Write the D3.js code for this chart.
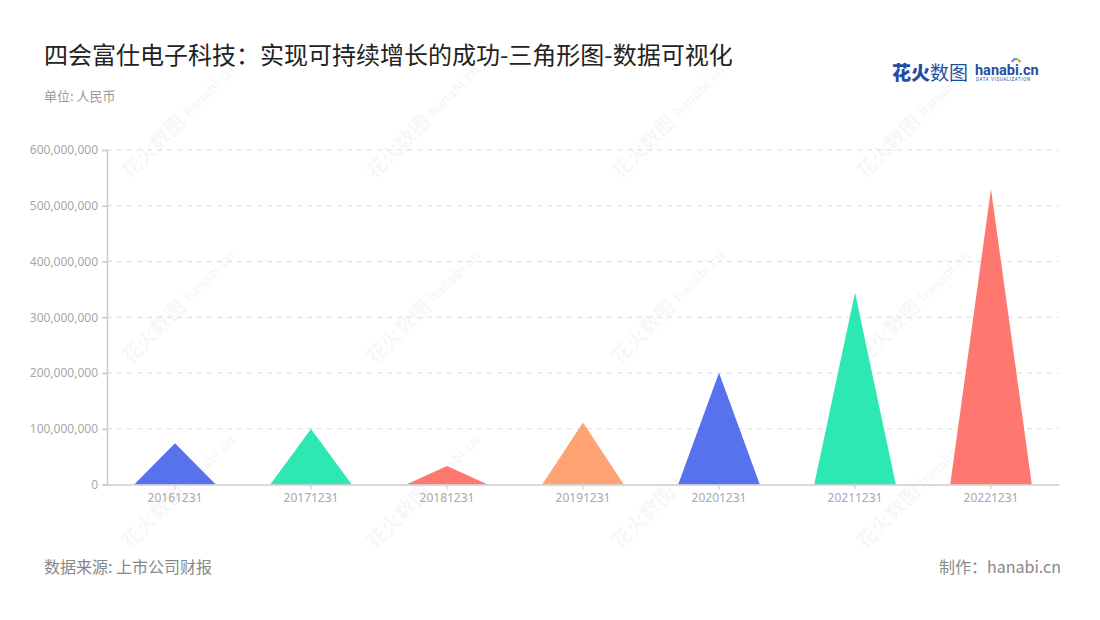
<!DOCTYPE html>
<html>
<head>
<meta charset="utf-8">
<script src="https://cdn.jsdelivr.net/npm/d3@7"></script>
<style>
  html, body { margin: 0; padding: 0; background: #fff; }
  svg { display: block; font-family: "Noto Sans CJK SC", "Noto Sans", sans-serif; }
</style>
</head>
<body>
<svg id="chart" width="1100" height="620"></svg>
<script>
const categories = ["20161231", "20171231", "20181231", "20191231", "20201231", "20211231", "20221231"];
const values = [74000000, 99500000, 33000000, 111000000, 200500000, 344000000, 530000000];
const colors = ["#5872ED", "#2DE8B2", "#FF7870", "#FFA373", "#5872ED", "#2DE8B2", "#FF7870"];
const yTicks = [0, 100000000, 200000000, 300000000, 400000000, 500000000, 600000000];
const titleText = "四会富仕电子科技：实现可持续增长的成功-三角形图-数据可视化";
const unitText = "单位: 人民币";
const sourceText = "数据来源: 上市公司财报";
const creditText = "制作：hanabi.cn";

const svg = d3.select("#chart");
const margin = { left: 107, right: 1059, top: 150, bottom: 484.5 };

// watermarks
const wm = svg.append("g").attr("class", "watermark");
[130, 375, 620, 865].forEach(wx => {
  [180, 365, 550].forEach(wy => {
    const g = wm.append("g").attr("transform", `translate(${wx},${wy}) rotate(-45)`);
    g.append("text").attr("x", 0).attr("y", 0)
      .attr("font-size", 20).attr("font-weight", 700).attr("fill", "#000").attr("fill-opacity", 0.05)
      .text("花火数图");
    g.append("text").attr("x", 86).attr("y", -2)
      .attr("font-size", 15).attr("font-weight", 700).attr("fill", "#000").attr("fill-opacity", 0.05)
      .attr("font-family", "Roboto, sans-serif")
      .text("hanabi.cn");
    g.append("text").attr("x", 88).attr("y", 6)
      .attr("font-size", 4).attr("fill", "#000").attr("fill-opacity", 0.05)
      .attr("font-family", "Roboto, sans-serif")
      .text("DATA VISUALIZATION");
  });
});

const x = d3.scaleBand().domain(categories).range([margin.left, margin.right]).paddingInner(0).paddingOuter(0);
const y = d3.scaleLinear().domain([0, 600000000]).range([margin.bottom, margin.top]);

// grid
svg.append("g").selectAll("line").data(yTicks.slice(1)).join("line")
  .attr("x1", margin.left).attr("x2", margin.right)
  .attr("y1", d => y(d)).attr("y2", d => y(d))
  .attr("stroke", "#dcdcdc").attr("stroke-width", 1).attr("stroke-dasharray", "5,5");

// triangles
const triW = x.bandwidth() * 0.6;
svg.append("g").selectAll("path").data(categories).join("path")
  .attr("d", (c, i) => {
    const cx = x(c) + x.bandwidth() / 2;
    return `M${cx - triW / 2},${y(0)} L${cx},${y(values[i])} L${cx + triW / 2},${y(0)} Z`;
  })
  .attr("fill", (c, i) => colors[i]);

// y axis
const yAxis = d3.axisLeft(y).tickValues(yTicks).tickSize(5).tickPadding(4)
  .tickFormat(d => d === 0 ? "0" : d3.format(",")(d));
const yg = svg.append("g").attr("transform", `translate(${margin.left},0)`).call(yAxis);
yg.select(".domain").attr("stroke", "#cccccc").attr("stroke-width", 1.5);
yg.selectAll(".tick line").attr("stroke", "#cccccc").attr("stroke-width", 1.5);
yg.selectAll(".tick text").attr("fill", "#a8a8a8").attr("font-size", 12)
  .attr("font-family", "Noto Sans, sans-serif");

// x axis
const xAxis = d3.axisBottom(x).tickSize(5).tickPadding(4).tickSizeOuter(0);
const xg = svg.append("g").attr("transform", `translate(0,${margin.bottom})`).call(xAxis);
xg.select(".domain").attr("stroke", "#cccccc").attr("stroke-width", 1.5);
xg.selectAll(".tick line").attr("stroke", "#cccccc").attr("stroke-width", 1);
xg.selectAll(".tick text").attr("fill", "#a3a8b6").attr("font-size", 12)
  .attr("font-family", "Noto Sans, sans-serif");

// title
svg.append("text").attr("x", 44).attr("y", 64)
  .attr("font-size", 24).attr("fill", "#222").text(titleText);
svg.append("text").attr("x", 44).attr("y", 101)
  .attr("font-size", 13).attr("fill", "#999").text(unitText);

// footer
svg.append("text").attr("x", 44).attr("y", 573)
  .attr("font-size", 16).attr("fill", "#888").text(sourceText);
svg.append("text").attr("x", 1061).attr("y", 573).attr("text-anchor", "end")
  .attr("font-size", 16).attr("fill", "#888").text(creditText);

// logo
const logo = svg.append("g");
logo.append("text").attr("x", 892).attr("y", 80)
  .attr("font-size", 19).attr("font-weight", 900).attr("fill", "#1f4fa3").text("花火");
logo.append("text").attr("x", 930).attr("y", 80)
  .attr("font-size", 19).attr("fill", "#1f4fa3").text("数图");
logo.append("text").attr("x", 975).attr("y", 75)
  .attr("font-size", 14.5).attr("font-weight", 700).attr("fill", "#1f4fa3")
  .attr("font-family", "Roboto, sans-serif").text("hanabi.cn");
logo.append("text").attr("x", 976).attr("y", 81)
  .attr("font-size", 4.5).attr("fill", "#1f4fa3").attr("letter-spacing", 0.6)
  .attr("font-family", "Roboto, sans-serif").text("DATA VISUALIZATION");
const dots = [["#ff5a5a", 0], ["#ffb400", 1], ["#2ec27e", 2], ["#3a8bff", 3], ["#c04dff", 4]];
dots.forEach(([c, k]) => {
  const a = -Math.PI * (0.15 + k * 0.17);
  logo.append("circle").attr("cx", 1016 + Math.cos(a) * 4).attr("cy", 63 + Math.sin(a) * 4)
    .attr("r", 1.2).attr("fill", c);
});
</script>
</body>
</html>
